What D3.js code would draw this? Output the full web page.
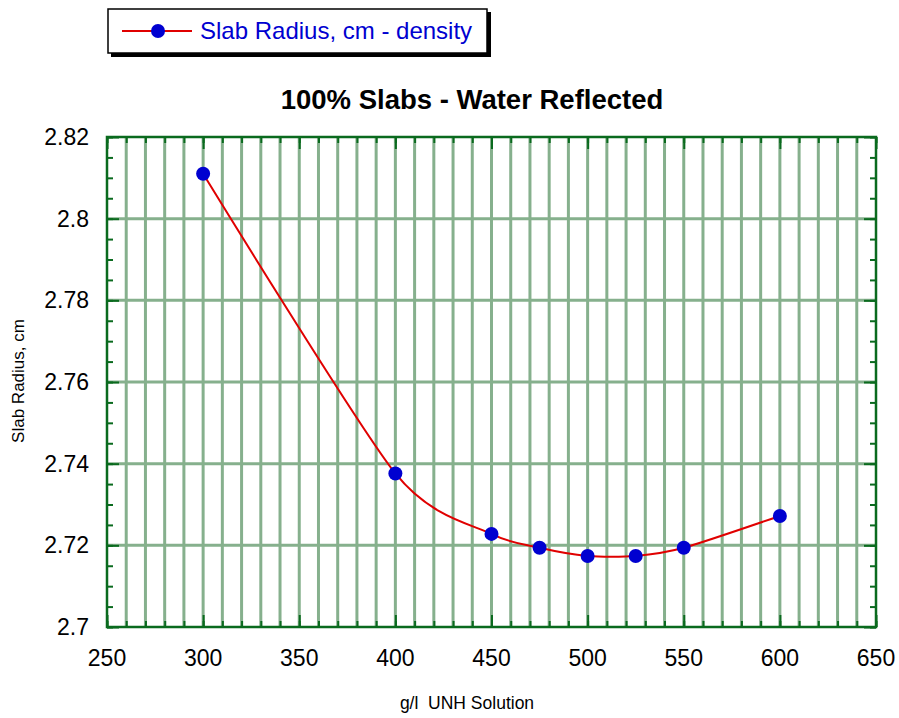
<!DOCTYPE html>
<html><head><meta charset="utf-8">
<script src="https://cdn.jsdelivr.net/npm/d3@7"></script>
<style>body{margin:0;background:#fff;font-family:Arial,"Liberation Sans",sans-serif;}</style>
</head><body><svg id="c" width="899" height="718"></svg>
<script>
const concentration = [300, 400, 450, 475, 500, 525, 550, 600];
const slabRadius = [2.811, 2.7376, 2.7228, 2.7194, 2.7174, 2.7174, 2.7194, 2.7272];
const xTicks = [250, 300, 350, 400, 450, 500, 550, 600, 650];
const yTicks = [2.7, 2.72, 2.74, 2.76, 2.78, 2.8, 2.82];
const seriesName = "Slab Radius, cm - density";
const title = "100% Slabs - Water Reflected";
const xLabel = "g/l  UNH Solution";
const yLabel = "Slab Radius, cm";

const svg = d3.select("#c");
const L = 107, R = 876, T = 137, B = 627;
const x = d3.scaleLinear().domain([250, 650]).range([L, R]);
const y = d3.scaleLinear().domain([2.7, 2.82]).range([B, T]);
const axisColor = "#0a6a1e";
const gridColor = "#86b08d";

const xMinor = d3.range(260, 650, 10);
svg.append("g").selectAll("line").data(xMinor).join("line")
  .attr("x1", d => x(d)).attr("x2", d => x(d)).attr("y1", T).attr("y2", B)
  .attr("stroke", gridColor).attr("stroke-width", 3);
svg.append("g").selectAll("line").data(yTicks.slice(1, -1)).join("line")
  .attr("x1", L).attr("x2", R).attr("y1", d => y(d)).attr("y2", d => y(d))
  .attr("stroke", gridColor).attr("stroke-width", 3);

const xMinorAll = d3.range(250, 651, 10);
const yMinorAll = d3.range(0, 25).map(i => 2.7 + i * 0.005);
function axisG(axis, tx, ty) {
  const g = svg.append("g").attr("transform", `translate(${tx},${ty})`).call(axis);
  g.selectAll("text").remove();
  g.select(".domain").remove();
  g.selectAll("line").attr("stroke", axisColor).attr("stroke-width", 2);
  return g;
}
axisG(d3.axisBottom(x).tickValues(xMinorAll).tickSize(-6), 0, B);
axisG(d3.axisBottom(x).tickValues(xTicks).tickSize(-12), 0, B);
axisG(d3.axisTop(x).tickValues(xMinorAll).tickSize(-6), 0, T);
axisG(d3.axisTop(x).tickValues(xTicks).tickSize(-12), 0, T);
axisG(d3.axisLeft(y).tickValues(yMinorAll).tickSize(-6), L, 0);
axisG(d3.axisLeft(y).tickValues(yTicks).tickSize(-12), L, 0);
axisG(d3.axisRight(y).tickValues(yMinorAll).tickSize(-6), R, 0);
axisG(d3.axisRight(y).tickValues(yTicks).tickSize(-12), R, 0);
svg.append("rect").attr("x", L).attr("y", T).attr("width", R - L).attr("height", B - T)
  .attr("fill", "none").attr("stroke", axisColor).attr("stroke-width", 2.5);

svg.append("g").selectAll("text").data(xTicks).join("text")
  .attr("x", d => x(d)).attr("y", 666).attr("text-anchor", "middle")
  .attr("font-size", 23).attr("fill", "#000").text(d => d);
svg.append("g").selectAll("text").data(yTicks).join("text")
  .attr("x", 89).attr("y", d => y(d) + 8).attr("text-anchor", "end")
  .attr("font-size", 23).attr("fill", "#000").text(d => d3.format("")(+d.toFixed(2)));

svg.append("text").attr("x", 467).attr("y", 709).attr("text-anchor", "middle")
  .attr("font-size", 17.5).attr("xml:space", "preserve").style("white-space", "pre").text(xLabel);
svg.append("text").attr("transform", "translate(24,381) rotate(-90)").attr("text-anchor", "middle")
  .attr("font-size", 17).text(yLabel);
svg.append("text").attr("x", 472).attr("y", 109).attr("text-anchor", "middle")
  .attr("font-size", 27.5).attr("font-weight", "bold").text(title);

const pts = concentration.map((c, i) => [c, slabRadius[i]]);
svg.append("path").datum(pts)
  .attr("d", d3.line().x(d => x(d[0])).y(d => y(d[1])).curve(d3.curveCardinal.tension(0.25)))
  .attr("fill", "none").attr("stroke", "#e00000").attr("stroke-width", 2);
svg.append("g").selectAll("circle").data(pts).join("circle")
  .attr("cx", d => x(d[0])).attr("cy", d => y(d[1])).attr("r", 7).attr("fill", "#0000d0");

const lg = svg.append("g");
lg.append("rect").attr("x", 111).attr("y", 12).attr("width", 380).attr("height", 45).attr("fill", "#000");
lg.append("rect").attr("x", 108).attr("y", 9).attr("width", 379).attr("height", 44)
  .attr("fill", "#fff").attr("stroke", "#000").attr("stroke-width", 1.5);
lg.append("line").attr("x1", 122).attr("x2", 192).attr("y1", 31).attr("y2", 31)
  .attr("stroke", "#e00000").attr("stroke-width", 2);
lg.append("circle").attr("cx", 158).attr("cy", 31).attr("r", 7).attr("fill", "#0000d0");
lg.append("text").attr("x", 200).attr("y", 39).attr("font-size", 24).attr("fill", "#0000d0").text(seriesName);
</script></body></html>
